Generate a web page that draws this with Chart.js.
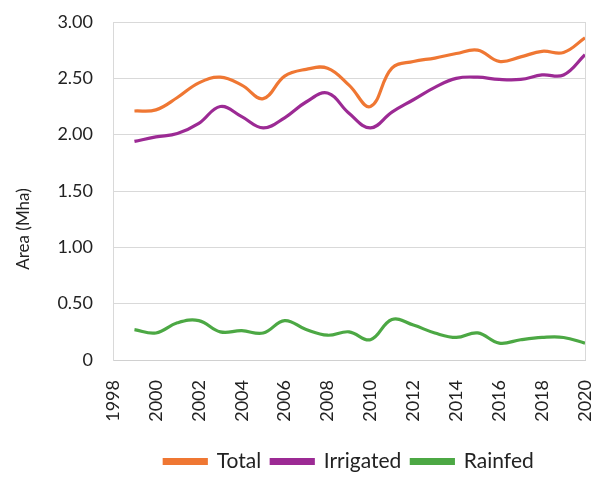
<!DOCTYPE html>
<html>
<head>
<meta charset="utf-8">
<script src="https://cdn.jsdelivr.net/npm/chart.js@4/dist/chart.umd.min.js"></script>
<style>
html,body{margin:0;padding:0;background:#fff;}
#wrap{width:593px;height:478px;}
</style>
</head>
<body>
<div id="wrap"><canvas id="c" width="593" height="478"></canvas></div>
<script>
const years = [1999,2000,2001,2002,2003,2004,2005,2006,2007,2008,2009,2010,2011,2012,2013,2014,2015,2016,2017,2018,2019,2020];
const total = [2.21,2.22,2.33,2.46,2.51,2.44,2.32,2.52,2.58,2.59,2.44,2.25,2.59,2.65,2.68,2.72,2.75,2.65,2.69,2.74,2.73,2.86];
const irrigated = [1.94,1.98,2.01,2.10,2.25,2.16,2.06,2.15,2.29,2.37,2.19,2.06,2.20,2.31,2.42,2.50,2.51,2.49,2.49,2.53,2.53,2.71];
const rainfed = [0.27,0.24,0.33,0.35,0.25,0.26,0.24,0.35,0.27,0.22,0.25,0.18,0.36,0.31,0.24,0.20,0.24,0.15,0.18,0.20,0.20,0.15];
const seriesNames = ['Total','Irrigated','Rainfed'];
const colors = ['#EF7733','#9C2A94','#4CA844'];
const yTitle = 'Area (Mha)';

const mk = arr => years.map((y,i)=>({x:y,y:arr[i]}));
const FONT = 'Lato, "Noto Sans", sans-serif';

const yTitlePlugin = {
  id: 'yTitle',
  afterDraw(chart) {
    const ctx = chart.ctx;
    ctx.save();
    ctx.translate(24, 229);
    ctx.rotate(-Math.PI / 2);
    ctx.font = '17px ' + FONT;
    ctx.fillStyle = '#222';
    ctx.textAlign = 'center';
    ctx.textBaseline = 'middle';
    ctx.fillText(yTitle, 0, 0);
    ctx.restore();
  }
};

new Chart(document.getElementById('c'), {
  type: 'line',
  data: {
    datasets: [total, irrigated, rainfed].map((arr,i)=>({
      label: seriesNames[i],
      data: mk(arr),
      borderColor: colors[i],
      backgroundColor: colors[i],
      borderWidth: 3.2,
      pointRadius: 0,
      tension: 0.4,
      fill: false
    }))
  },
  plugins: [yTitlePlugin],
  options: {
    responsive: false,
    animation: false,
    layout: {padding: {left: 0, right: 8, top: 22, bottom: -4}},
    plugins: {
      legend: {
        position: 'bottom',
        fullSize: false,
        labels: {
          font: {family: FONT, size: 21},
          color: '#222',
          boxWidth: 42,
          boxHeight: 4,
          padding: 10
        }
      },
      tooltip: {enabled: false}
    },
    scales: {
      x: {
        type: 'linear',
        min: 1998,
        max: 2020,
        ticks: {
          stepSize: 2,
          minRotation: 90,
          maxRotation: 90,
          font: {family: FONT, size: 18},
          color: '#222',
          padding: 20,
          callback: v => String(v)
        },
        grid: {
          drawTicks: false,
          color: ctx => (ctx.tick && (ctx.tick.value === 1998 || ctx.tick.value === 2020)) ? '#d9d9d9' : 'rgba(0,0,0,0)',
          lineWidth: 1
        },
        border: {display: true, color: '#d0d0d0', width: 1},
        afterFit: s => { s.height = 81; s.paddingLeft = 0; s.paddingRight = 0; }
      },
      y: {
        min: 0,
        max: 3,
        ticks: {
          stepSize: 0.5,
          font: {family: FONT, size: 18},
          color: '#222',
          padding: 20,
          callback: v => v === 0 ? '0' : v.toFixed(2)
        },
        grid: {drawTicks: false, color: '#d9d9d9', lineWidth: 1},
        border: {display: true, color: '#d9d9d9'},
        title: {display: false},
        afterFit: s => { s.width = 113; s.paddingTop = 0; s.paddingBottom = 0; }
      }
    }
  }
});
</script>
</body>
</html>
